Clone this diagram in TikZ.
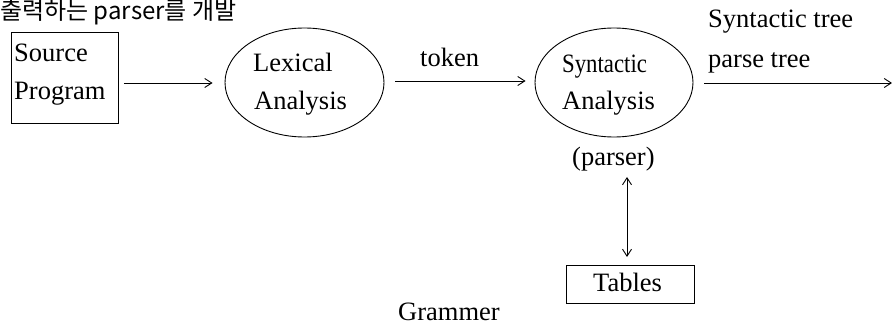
\documentclass[tikz,border=0pt]{standalone}
\usepackage{fontspec}
\setmainfont{Liberation Serif}
\newfontfamily\kor{Noto Sans CJK KR}
\usetikzlibrary{arrows.meta,shapes.geometric}
\tikzset{
  lbl/.style={font=\fontsize{26.5}{28}\selectfont, inner sep=0pt},
  oval/.style={draw, ellipse, line width=0.9pt},
  boxs/.style={draw, rectangle, line width=0.9pt},
  arr/.style={line width=0.9pt, -{Straight Barb[length=7pt,width=9pt]}},
  darr/.style={line width=0.9pt, {Straight Barb[length=7pt,width=9pt]}-{Straight Barb[length=7pt,width=9pt]}},
}
\begin{document}
\begin{tikzpicture}[x=1pt,y=-1pt]
\useasboundingbox (0,0) rectangle (892,326);
\fill[white] (0,0) rectangle (892,326);
\node[anchor=base west, inner sep=0pt, font=\kor\fontsize{24}{26}\selectfont] (title) at (0,20) {출력하는 parser를 개발};
% source program box
\node[boxs, minimum width=107pt, minimum height=91pt, anchor=north west] (src) at (11,32) {};
\node[lbl, anchor=base west] (srcA) at (14,62) {Source};
\node[lbl, anchor=base west] (srcB) at (14,100) {Program};
% lexical
\node[oval, minimum width=159pt, minimum height=109pt] (lex) at (304.5,82.5) {};
\node[lbl, anchor=base west] (lexA) at (253,72) {Lexical};
\node[lbl, anchor=base west] (lexB) at (254,110) {Analysis};
% syntactic
\node[oval, minimum width=158pt, minimum height=109pt] (syn) at (614,82.5) {};
\node[lbl, anchor=base west, xscale=0.86] (synA) at (562,73) {Syntactic};
\node[lbl, anchor=base west] (synB) at (562,110) {Analysis};
\node[lbl, anchor=base west] (parser) at (572,166) {(parser)};
% tables
\node[boxs, minimum width=128pt, minimum height=38pt] (tab) at (630,284) {};
\node[lbl, anchor=base west] (tabT) at (593,291) {Tables};
% labels
\node[lbl, anchor=base west] (tok) at (420,67) {token};
\node[lbl, anchor=base west] (st1) at (708,28) {Syntactic tree};
\node[lbl, anchor=base west] (st2) at (708,68) {parse tree};
\node[lbl, anchor=base west] (gram) at (398,320) {Grammer};
\coordinate (outend) at (892,83);
% arrows
\draw[arr] ([xshift=5pt]src.east |- 0,83) -- ([xshift=-12pt]lex.west |- 0,83);
\draw[arr] ([xshift=11pt]lex.east |- 0,81) -- ([xshift=-9pt]syn.west |- 0,81);
\draw[arr] ([xshift=11pt]syn.east |- 0,83) -- (outend);
\draw[darr] (627,177) coordinate (va) -- (627,257) coordinate (vb);
\end{tikzpicture}
\end{document}
